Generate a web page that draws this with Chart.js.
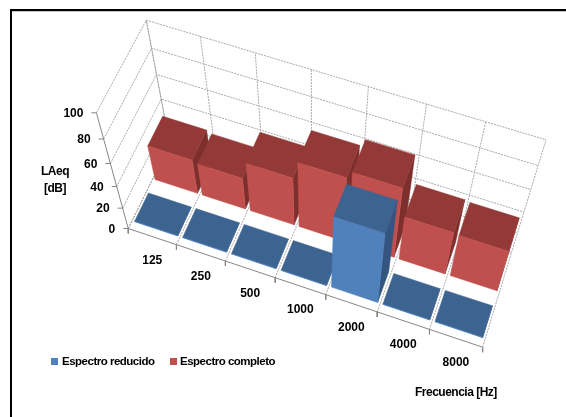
<!DOCTYPE html>
<html>
<head>
<meta charset="utf-8">
<style>
  html, body { margin: 0; padding: 0; background: #fff; overflow: hidden; }
  canvas { display: block; }
</style>
<script src="https://cdn.jsdelivr.net/npm/chart.js@4"></script>
</head>
<body>
<canvas id="barChart" width="566" height="417"></canvas>
<script>
const categories = ["125", "250", "500", "1000", "2000", "4000", "8000"];
const valueTicks = [0, 20, 40, 60, 80, 100];
const seriesNames = ["Espectro reducido", "Espectro completo"];
const reducido = [0, 0, 0, 0, 68, 0, 0];
const completo = [31, 29, 44, 59, 65, 41, 40];

const blue = { front: "#4F81BD", top: "#3D6491", side: "#33557F" };
const red = { front: "#C0504D", top: "#933937", side: "#7C2F2D" };
const gridColor = "#A8A8A8";
const axisColor = "#868686";
const fontFamily = '"Liberation Sans", Arial, sans-serif';

// box corners read on the picture: u along categories, v in depth, w = value/100
const calib = [
  [0, 0, 0, 129, 228], [1/7, 0, 0, 176, 245], [2/7, 0, 0, 225, 262], [3/7, 0, 0, 275, 278],
  [4/7, 0, 0, 326, 295], [5/7, 0, 0, 378, 312], [6/7, 0, 0, 429, 330], [1, 0, 0, 482, 347],
  [0, 0, .2, 123, 207], [0, 0, .4, 117, 186], [0, 0, .6, 111, 163], [0, 0, .8, 103, 139], [0, 0, 1, 96, 113],
  [0, 1, 1, 146, 20], [1/7, 1, 1, 201, 37], [2/7, 1, 1, 256, 53], [3/7, 1, 1, 311, 69],
  [4/7, 1, 1, 368, 87], [5/7, 1, 1, 427, 105], [6/7, 1, 1, 486, 122], [1, 1, 1, 546, 140],
  [0, 1, .8, 151, 48], [0, 1, .6, 156, 75], [0, 1, .4, 161, 99],
  [1, 1, .8, 538, 165], [1, 1, .6, 531, 188], [1, 1, .4, 524, 212]
];

// least squares fit of the camera matrix
function fitCamera(points) {
  const n = 11;
  const A = Array.from({ length: n }, () => new Array(n + 1).fill(0));
  const addRow = (row, b) => {
    for (let i = 0; i < n; i++) {
      for (let j = 0; j < n; j++) A[i][j] += row[i] * row[j];
      A[i][n] += row[i] * b;
    }
  };
  points.forEach(([u, v, w, x, y]) => {
    addRow([u, v, w, 1, 0, 0, 0, 0, -x * u, -x * v, -x * w], x);
    addRow([0, 0, 0, 0, u, v, w, 1, -y * u, -y * v, -y * w], y);
  });
  for (let c = 0; c < n; c++) {
    let p = c;
    for (let r = c + 1; r < n; r++) if (Math.abs(A[r][c]) > Math.abs(A[p][c])) p = r;
    [A[c], A[p]] = [A[p], A[c]];
    for (let r = 0; r < n; r++) {
      if (r === c) continue;
      const f = A[r][c] / A[c][c];
      for (let k = c; k <= n; k++) A[r][k] -= f * A[c][k];
    }
  }
  return A.map((row, i) => row[n] / row[i]);
}

const cam = fitCamera(calib);

function project(u, v, w) {
  const d = cam[8] * u + cam[9] * v + cam[10] * w + 1;
  return {
    x: (cam[0] * u + cam[1] * v + cam[2] * w + cam[3]) / d,
    y: (cam[4] * u + cam[5] * v + cam[6] * w + cam[7]) / d
  };
}

const nCat = categories.length;
const gap = 0.05;
const depthSlots = [[0.09, 0.42], [0.58, 0.93]];

let layers = [];

function addLine(points, color, dash) {
  layers.push({
    data: points,
    showLine: true,
    fill: false,
    borderColor: color,
    borderWidth: 1,
    borderDash: dash || [],
    pointRadius: 0,
    clip: false
  });
}

function addFace(points, color) {
  layers.push({
    data: points.concat([points[0]]),
    showLine: true,
    fill: "shape",
    backgroundColor: color,
    borderColor: color,
    borderWidth: 0.5,
    pointRadius: 0,
    clip: false
  });
}

function addBar(i, value, slot, col) {
  const u0 = (i + gap) / nCat, u1 = (i + 1 - gap) / nCat;
  const [v0, v1] = slot;
  const w = value / 100;
  addFace([project(u1, v0, 0), project(u1, v1, 0), project(u1, v1, w), project(u1, v0, w)], col.side);
  addFace([project(u0, v0, w), project(u1, v0, w), project(u1, v1, w), project(u0, v1, w)], col.top);
  addFace([project(u0, v0, 0), project(u1, v0, 0), project(u1, v0, w), project(u0, v0, w)], col.front);
}

// walls and floor
valueTicks.forEach(t => {
  const w = t / 100;
  addLine([project(0, 0, w), project(0, 1, w), project(1, 1, w)], gridColor, [2, 1]);
});
for (let i = 0; i <= nCat; i++) {
  const u = i / nCat;
  addLine([project(u, 0, 0), project(u, 1, 0), project(u, 1, 1)], gridColor, [2, 1]);
}
addLine([project(0, 1, 0), project(0, 1, 1)], gridColor, [2, 1]);

// axes with tick marks
addLine([project(0, 0, 0), project(0, 0, 1)], axisColor);
addLine([project(0, 0, 0), project(1, 0, 0)], axisColor);
valueTicks.forEach(t => {
  const p = project(0, 0, t / 100);
  addLine([{ x: p.x - 5, y: p.y }, p], axisColor);
});
for (let i = 0; i <= nCat; i++) {
  const p = project(i / nCat, 0, 0);
  addLine([p, { x: p.x, y: p.y + 5 }], axisColor);
}

// bars, back row first then left to right
completo.forEach((val, i) => addBar(i, val, depthSlots[1], red));
reducido.forEach((val, i) => addBar(i, val, depthSlots[0], blue));

const textPlugin = {
  id: "textPlugin",
  beforeDraw(chart) {
    const { ctx } = chart;
    ctx.save();
    ctx.fillStyle = "#000";
    ctx.fillRect(10, 9, 556, 2);
    ctx.fillRect(10, 9, 2, 408);
    ctx.fillStyle = "#C8C8C8";
    ctx.fillRect(12, 11, 554, 1);
    ctx.restore();
  },
  afterDraw(chart) {
    const { ctx, scales: { x, y } } = chart;
    ctx.save();
    ctx.fillStyle = "#000";
    ctx.textBaseline = "middle";
    ctx.font = "bold 12px " + fontFamily;
    ctx.textAlign = "right";
    valueTicks.forEach(t => {
      const p = project(0, 0, t / 100);
      ctx.fillText(String(t), x.getPixelForValue(p.x) - 13, y.getPixelForValue(p.y) + 1);
    });
    ctx.textAlign = "center";
    categories.forEach((c, i) => {
      const p = project((i + 0.5) / nCat, 0, 0);
      ctx.fillText(c, x.getPixelForValue(p.x), y.getPixelForValue(p.y) + 24);
    });
    ctx.letterSpacing = "-0.5px";
    ctx.fillText("LAeq", 55, 172);
    ctx.fillText("[dB]", 55, 189);
    ctx.textAlign = "left";
    ctx.fillText("Frecuencia [Hz]", 415, 393);

    // legend
    ctx.font = "bold 11.5px " + fontFamily;
    ctx.fillStyle = blue.front;
    ctx.fillRect(51, 358, 7, 7);
    ctx.fillStyle = red.front;
    ctx.fillRect(170, 358, 7, 7);
    ctx.fillStyle = "#000";
    ctx.fillText(seriesNames[0], 62, 362);
    ctx.fillText(seriesNames[1], 180, 362);
    ctx.restore();
  }
};

const chart = new Chart(document.getElementById("barChart").getContext("2d"), {
  type: "scatter",
  data: { datasets: layers.slice().reverse() },
  options: {
    responsive: false,
    animation: { duration: 0 },
    layout: { padding: 0 },
    plugins: { legend: { display: false }, tooltip: { enabled: false } },
    scales: {
      x: { type: "linear", min: 0, max: 566, display: false },
      y: { type: "linear", min: 0, max: 417, reverse: true, display: false }
    }
  },
  plugins: [textPlugin]
});
</script>
</body>
</html>
